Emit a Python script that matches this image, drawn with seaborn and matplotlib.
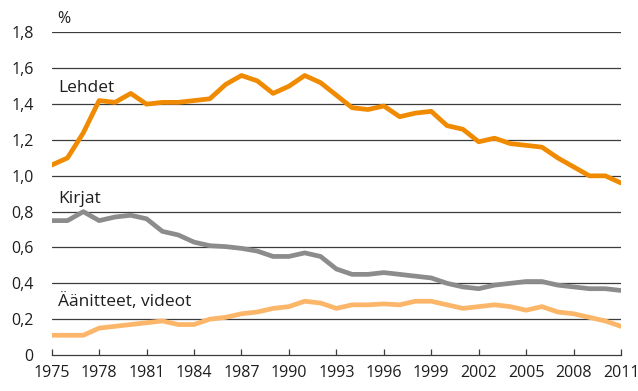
import matplotlib
matplotlib.use("Agg")
import matplotlib.pyplot as plt
import numpy as np
import pandas as pd
import seaborn as sns

years = list(range(1975, 2012))

lehdet = [1.06, 1.10, 1.24, 1.42, 1.41, 1.46, 1.40, 1.41, 1.41, 1.42, 1.43,
          1.51, 1.56, 1.53, 1.46, 1.50, 1.56, 1.52, 1.45, 1.38, 1.37, 1.39,
          1.33, 1.35, 1.36, 1.28, 1.26, 1.19, 1.21, 1.18, 1.17, 1.16, 1.10,
          1.05, 1.00, 1.00, 0.96]

kirjat = [0.75, 0.75, 0.80, 0.75, 0.77, 0.78, 0.76, 0.69, 0.67, 0.63, 0.61,
          0.605, 0.595, 0.58, 0.55, 0.55, 0.57, 0.55, 0.48, 0.45, 0.45, 0.46,
          0.45, 0.44, 0.43, 0.40, 0.38, 0.37, 0.39, 0.40, 0.41, 0.41, 0.39,
          0.38, 0.37, 0.37, 0.36]

aanitteet = [0.11, 0.11, 0.11, 0.15, 0.16, 0.17, 0.18, 0.19, 0.17, 0.17, 0.20,
             0.21, 0.23, 0.24, 0.26, 0.27, 0.30, 0.29, 0.26, 0.28, 0.28, 0.285,
             0.28, 0.30, 0.30, 0.28, 0.26, 0.27, 0.28, 0.27, 0.25, 0.27, 0.24,
             0.23, 0.21, 0.19, 0.16]

series_names = ["Lehdet", "Kirjat", "Äänitteet, videot"]
series_colors = ["#F08A00", "#8C8C8C", "#FBB66A"]
label_pos = [(1975.42, 1.466), (1975.42, 0.851), (1975.38, 0.274)]

x_ticks = list(range(1975, 2012, 3))
y_ticks = [0, 0.2, 0.4, 0.6, 0.8, 1.0, 1.2, 1.4, 1.6, 1.8]
y_tick_labels = ["0", "0,2", "0,4", "0,6", "0,8", "1,0", "1,2", "1,4", "1,6", "1,8"]

df = pd.DataFrame({
    "vuosi": years * 3,
    "arvo": lehdet + kirjat + aanitteet,
    "sarja": [series_names[0]] * len(years)
             + [series_names[1]] * len(years)
             + [series_names[2]] * len(years),
})

sns.set_theme(style="white")
plt.rcParams["font.family"] = ["Open Sans", "DejaVu Sans"]
text_color = "#1e1e1e"

fig = plt.figure(figsize=(6.38, 3.91), dpi=100)
ax = fig.add_axes([0.081, 0.0921, 0.8924, 0.8248])

for yv in y_ticks[1:]:
    ax.axhline(yv, color="#3c3c3c", lw=0.9, zorder=1)

sns.lineplot(data=df, x="vuosi", y="arvo", hue="sarja",
             hue_order=series_names, palette=series_colors,
             linewidth=3.4, legend=False, ax=ax, zorder=3)
for line in ax.get_lines():
    line.set_solid_capstyle("round")
    line.set_solid_joinstyle("round")

ax.set_xlim(1975, 2011)
ax.set_ylim(0, 1.8)
ax.set_xlabel("")
ax.set_ylabel("")

ax.set_xticks(x_ticks)
ax.set_xticklabels([str(v) for v in x_ticks])
ax.set_yticks(y_ticks)
ax.set_yticklabels(y_tick_labels)
ax.tick_params(axis="x", direction="in", length=4, width=0.9, color="#3c3c3c",
               pad=7, labelsize=11.5, labelcolor=text_color, bottom=True)
ax.tick_params(axis="y", length=0, pad=13, labelsize=11.5, labelcolor=text_color)

for side in ["top", "right", "left"]:
    ax.spines[side].set_visible(False)
ax.spines["bottom"].set_color("#3c3c3c")
ax.spines["bottom"].set_linewidth(0.9)

for name, (lx, ly) in zip(series_names, label_pos):
    ax.text(lx, ly, name, fontsize=12.5, color=text_color, ha="left",
            va="baseline", zorder=4)

fig.text(57 / 638, 1 - 23 / 391, "%", fontsize=11.5, color=text_color,
         ha="left", va="baseline")

fig.savefig("out.png", dpi=100)
